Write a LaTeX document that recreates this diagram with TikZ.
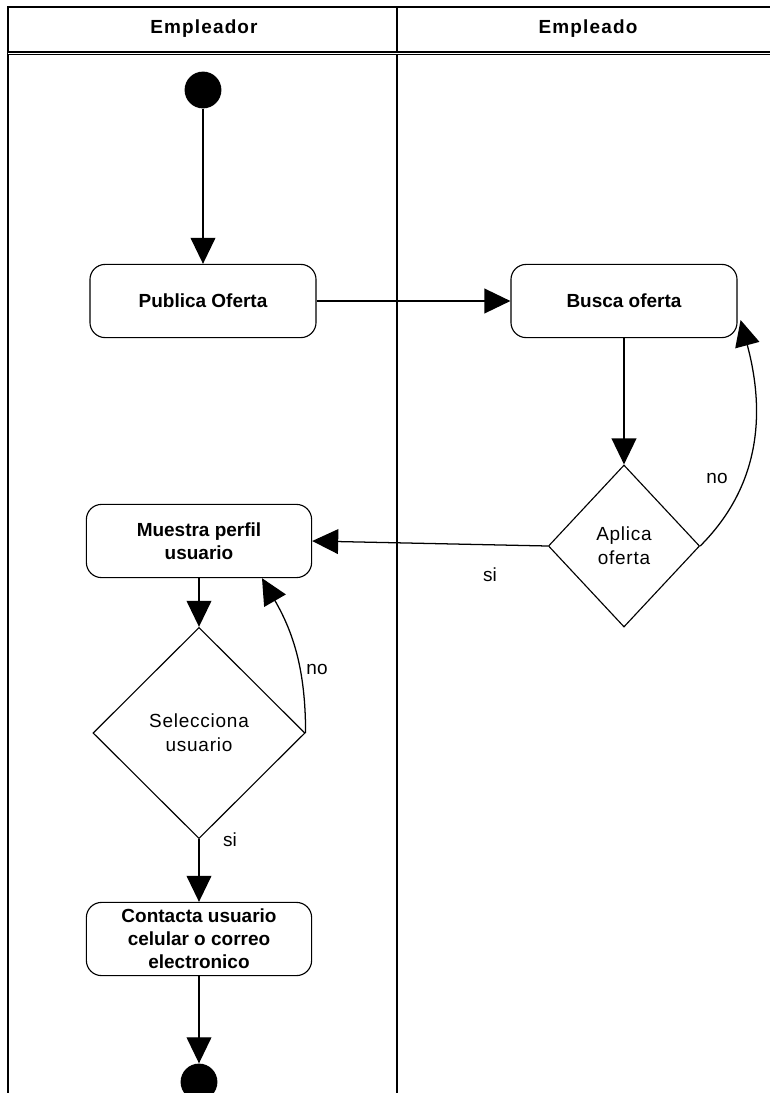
\documentclass[tikz,border=0pt]{standalone}
\usepackage{fontspec}
\setmainfont{Liberation Sans}
\usetikzlibrary{shapes.geometric,arrows.meta,calc}

\tikzset{
	actividad/.style={draw, rounded corners=0.38cm, minimum width=5.65cm, minimum height=1.83cm, inner sep=1pt, align=center, line width=0.8pt, font=\fontsize{13.5}{16.5}\selectfont\bfseries},
	decision/.style={draw, diamond, inner sep=0pt, align=center, line width=0.8pt, font=\fontsize{13.5}{17}\selectfont\addfontfeature{LetterSpace=4}},
	punto/.style={circle, fill=black, minimum size=0.92cm, inner sep=0pt},
	flecha/.style={line width=0.9pt, -{Triangle[length=0.65cm,width=0.62cm]}},
	marco/.style={line width=0.9pt},
	carril/.style={font=\fontsize{13.5}{16}\selectfont\bfseries\addfontfeature{LetterSpace=6}},
	etiqueta/.style={font=\fontsize{13.5}{16}\selectfont},
}

\begin{document}
\begin{tikzpicture}[x=0.025cm, y=-0.025cm]
	\useasboundingbox (0,0) rectangle (770,1093);

	% carriles
	\draw[marco] (8,1100) -- (8,7) -- (770,7);
	\draw[marco] (397,7) -- (397,1100);
	\draw[marco, double, double distance=0.7pt] (8,53) -- (770,53);
	\node[carril] (empleador) at (204,29) {Empleador};
	\node[carril] (empleado) at (588,29) {Empleado};

	% actividades
	\node[punto] (inicio) at (203,90) {};
	\node[actividad] (publica) at (203,301) {Publica Oferta};
	\node[actividad] (busca) at (624,301) {Busca oferta};
	\node[decision, minimum width=3.78cm, minimum height=4.05cm] (aplica) at (624,546) {Aplica\\oferta};
	\node[actividad, minimum width=5.63cm] (muestra) at (199,541) {Muestra perfil\\usuario};
	\node[decision, minimum width=5.3cm, minimum height=5.28cm] (selecciona) at (199,733) {Selecciona\\usuario};
	\node[actividad, minimum width=5.63cm] (contacta) at (199,939) {Contacta usuario\\celular o correo\\electronico};
	\node[punto] (fin) at (199,1082) {};

	% flujo
	\draw[flecha] (inicio) -- (publica);
	\draw[flecha] (publica) -- (busca);
	\draw[flecha] (busca) -- (aplica);
	\draw[flecha] (aplica.east) to[out=45,in=-75] ($(busca.east)+(3,19)$);
	\node[etiqueta] (noAplica) at (717,478) {no};
	\draw[flecha] (aplica.west) -- (muestra.east);
	\node[etiqueta] (siAplica) at (490,575) {si};
	\draw[flecha] (muestra) -- (selecciona);
	\draw[flecha] (selecciona.east) to[out=90,in=-60] ($(muestra.south)+(63,0)$);
	\node[etiqueta] (noSelecciona) at (317,669) {no};
	\draw[flecha] (selecciona) -- (contacta);
	\node[etiqueta] (siSelecciona) at (230,840) {si};
	\draw[flecha] (contacta) -- (fin);

\end{tikzpicture}
\end{document}
